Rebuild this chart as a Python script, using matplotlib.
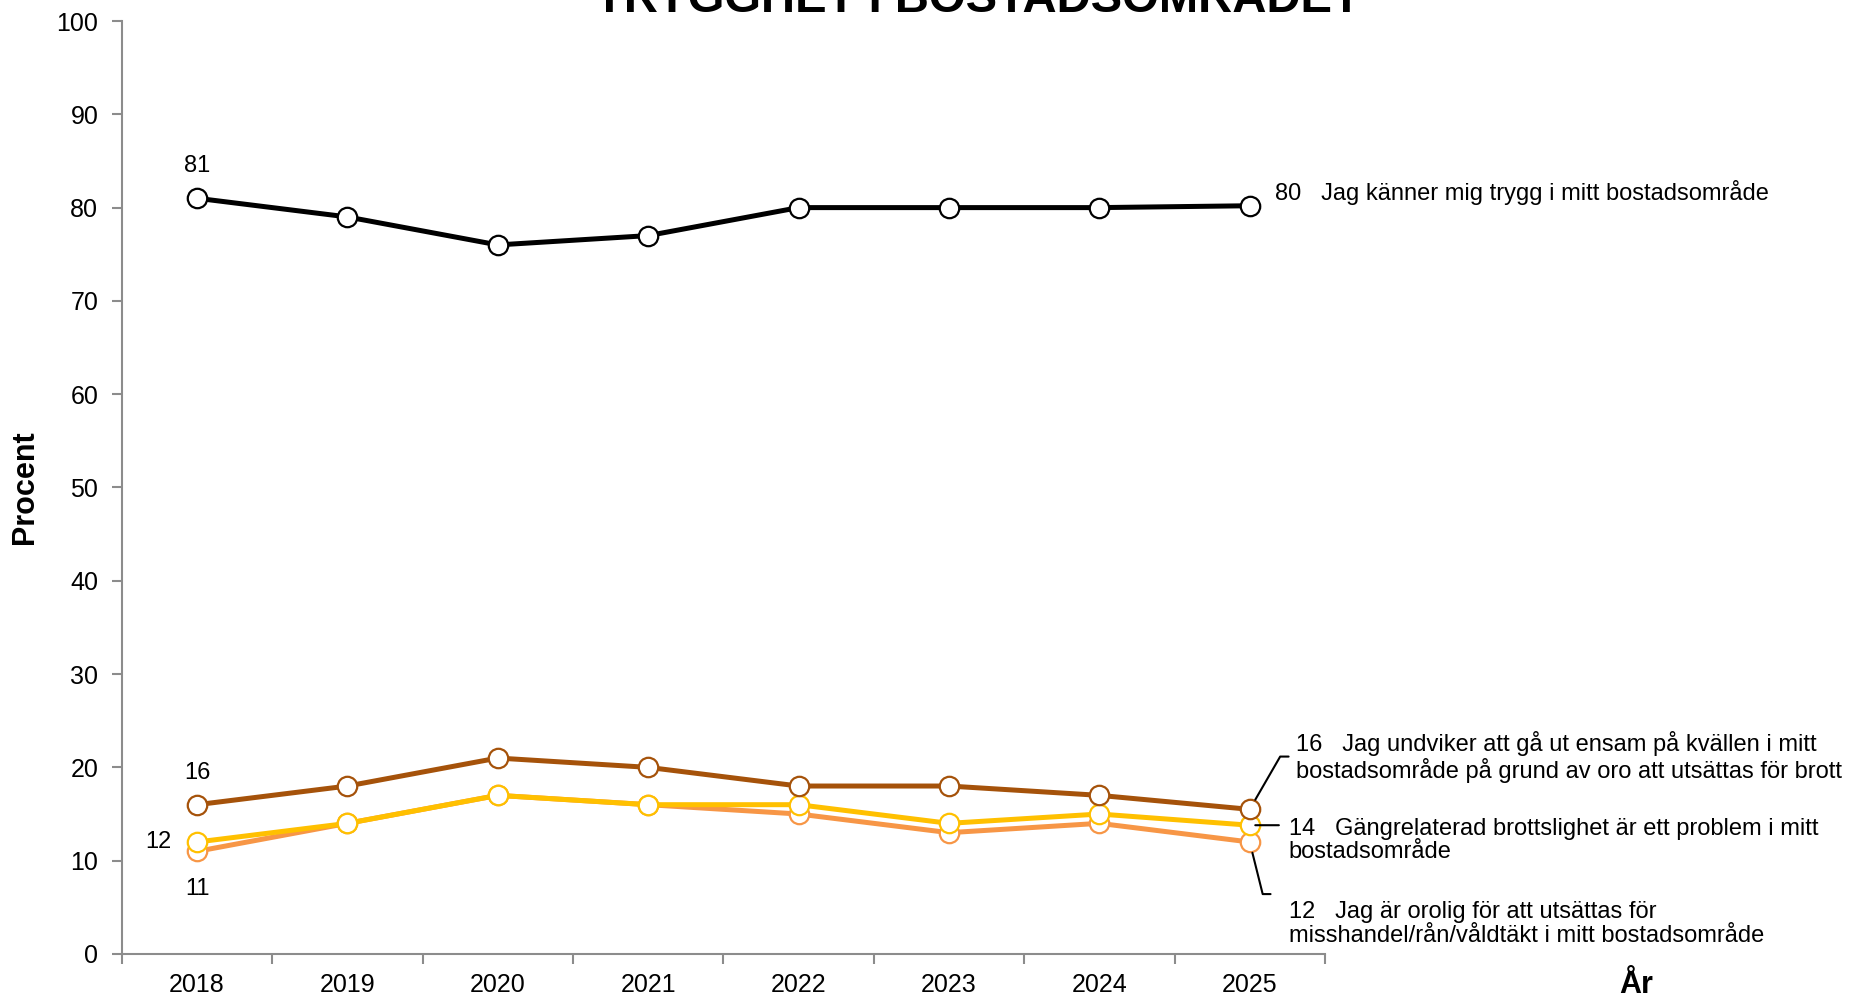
import matplotlib.pyplot as plt

plt.rcParams["font.family"] = ["Liberation Sans", "DejaVu Sans"]

years = ["2018", "2019", "2020", "2021", "2022", "2023", "2024", "2025"]
trygg = [81, 79, 76, 77, 80, 80, 80, 80.2]
undviker = [16, 18, 21, 20, 18, 18, 17, 15.5]
gang = [12, 14, 17, 16, 16, 14, 15, 13.8]
orolig = [11, 14, 17, 16, 15, 13, 14, 12]

black = "#000000"
brown = "#A5520A"
yellow = "#FFC000"
orange = "#F79646"

fig = plt.figure(figsize=(18.53, 10.01), dpi=100)
ax = fig.add_axes([0.0658, 0.047, 0.6492, 0.932])

x = list(range(len(years)))
for vals, col in [(orolig, orange), (gang, yellow), (undviker, brown), (trygg, black)]:
    ax.plot(x, vals, color=col, lw=3.6, marker="o", ms=14, mfc="white",
            mec=col, mew=1.6, zorder=3)

ax.set_xlim(-0.5, 7.5)
ax.set_ylim(0, 100)
ax.set_yticks(range(0, 101, 10))
ax.set_xticks(x)
ax.set_xticklabels(years)
ax.set_xticks([i - 0.5 for i in range(9)], minor=True)
ax.tick_params(axis="x", which="major", length=0, labelsize=18, pad=14)
ax.tick_params(axis="x", which="minor", length=7, color="#8c8c8c", width=1.5)
ax.tick_params(axis="y", length=7, color="#8c8c8c", width=1.5, labelsize=18, pad=10)
for s in ["top", "right"]:
    ax.spines[s].set_visible(False)
for s in ["left", "bottom"]:
    ax.spines[s].set_color("#8c8c8c")
    ax.spines[s].set_linewidth(1.5)

# start labels
lab = dict(textcoords="offset points", ha="center", va="center", fontsize=17)
ax.annotate(f"{trygg[0]:.0f}", (0, trygg[0]), xytext=(0, 23), **lab)
ax.annotate(f"{undviker[0]:.0f}", (0, undviker[0]), xytext=(0, 23), **lab)
ax.annotate(f"{gang[0]:.0f}", (0, gang[0]), xytext=(-28, 0), **lab)
ax.annotate(f"{orolig[0]:.0f}", (0, orolig[0]), xytext=(0, -27), **lab)

# end labels
txt = dict(textcoords="offset points", ha="left", va="center", fontsize=17,
           linespacing=1.1, annotation_clip=False)
ax.annotate(f"{trygg[-1]:.0f}   Jag känner mig trygg i mitt bostadsområde",
            (7, trygg[-1]), xytext=(18, 9.4), **txt)
ax.annotate(f"{undviker[-1]:.0f}   Jag undviker att gå ut ensam på kvällen i mitt\n"
            "bostadsområde på grund av oro att utsättas för brott",
            (7, undviker[-1]), xytext=(33, 37.5), **txt)
ax.annotate(f"{gang[-1]:.0f}   Gängrelaterad brottslighet är ett problem i mitt\n"
            "bostadsområde",
            (7, gang[-1]), xytext=(28, -11), **txt)
ax.annotate(f"{orolig[-1]:.0f}   Jag är orolig för att utsättas för\n"
            "misshandel/rån/våldtäkt i mitt bostadsområde",
            (7, orolig[-1]), xytext=(28, -59), **txt)

# leader lines
ld = dict(arrowstyle="-", color="black", lw=1.5, shrinkA=0)
ax.annotate("", (7, undviker[-1]), xytext=(28, 38), textcoords="offset points",
            annotation_clip=False,
            arrowprops=dict(connectionstyle="angle,angleA=0,angleB=60,rad=0",
                            shrinkB=8, **ld))
ax.annotate("", (7, gang[-1]), xytext=(21, 0), textcoords="offset points",
            annotation_clip=False,
            arrowprops=dict(shrinkB=4, **ld))
ax.annotate("", (7, orolig[-1]), xytext=(15, -37.5), textcoords="offset points",
            annotation_clip=False,
            arrowprops=dict(connectionstyle="angle,angleA=0,angleB=-76,rad=0",
                            shrinkB=8, **ld))

ax.set_ylabel("Procent", fontsize=22, fontweight="bold", labelpad=12)
fig.text(0.883, 0.008, "År", fontsize=22, fontweight="bold", ha="center", va="baseline")
fig.text(0.528, 0.988, "TRYGGHET I BOSTADSOMRÅDET", fontsize=34, fontweight="bold",
         ha="center", va="baseline")

fig.savefig("out.png", dpi=100)
